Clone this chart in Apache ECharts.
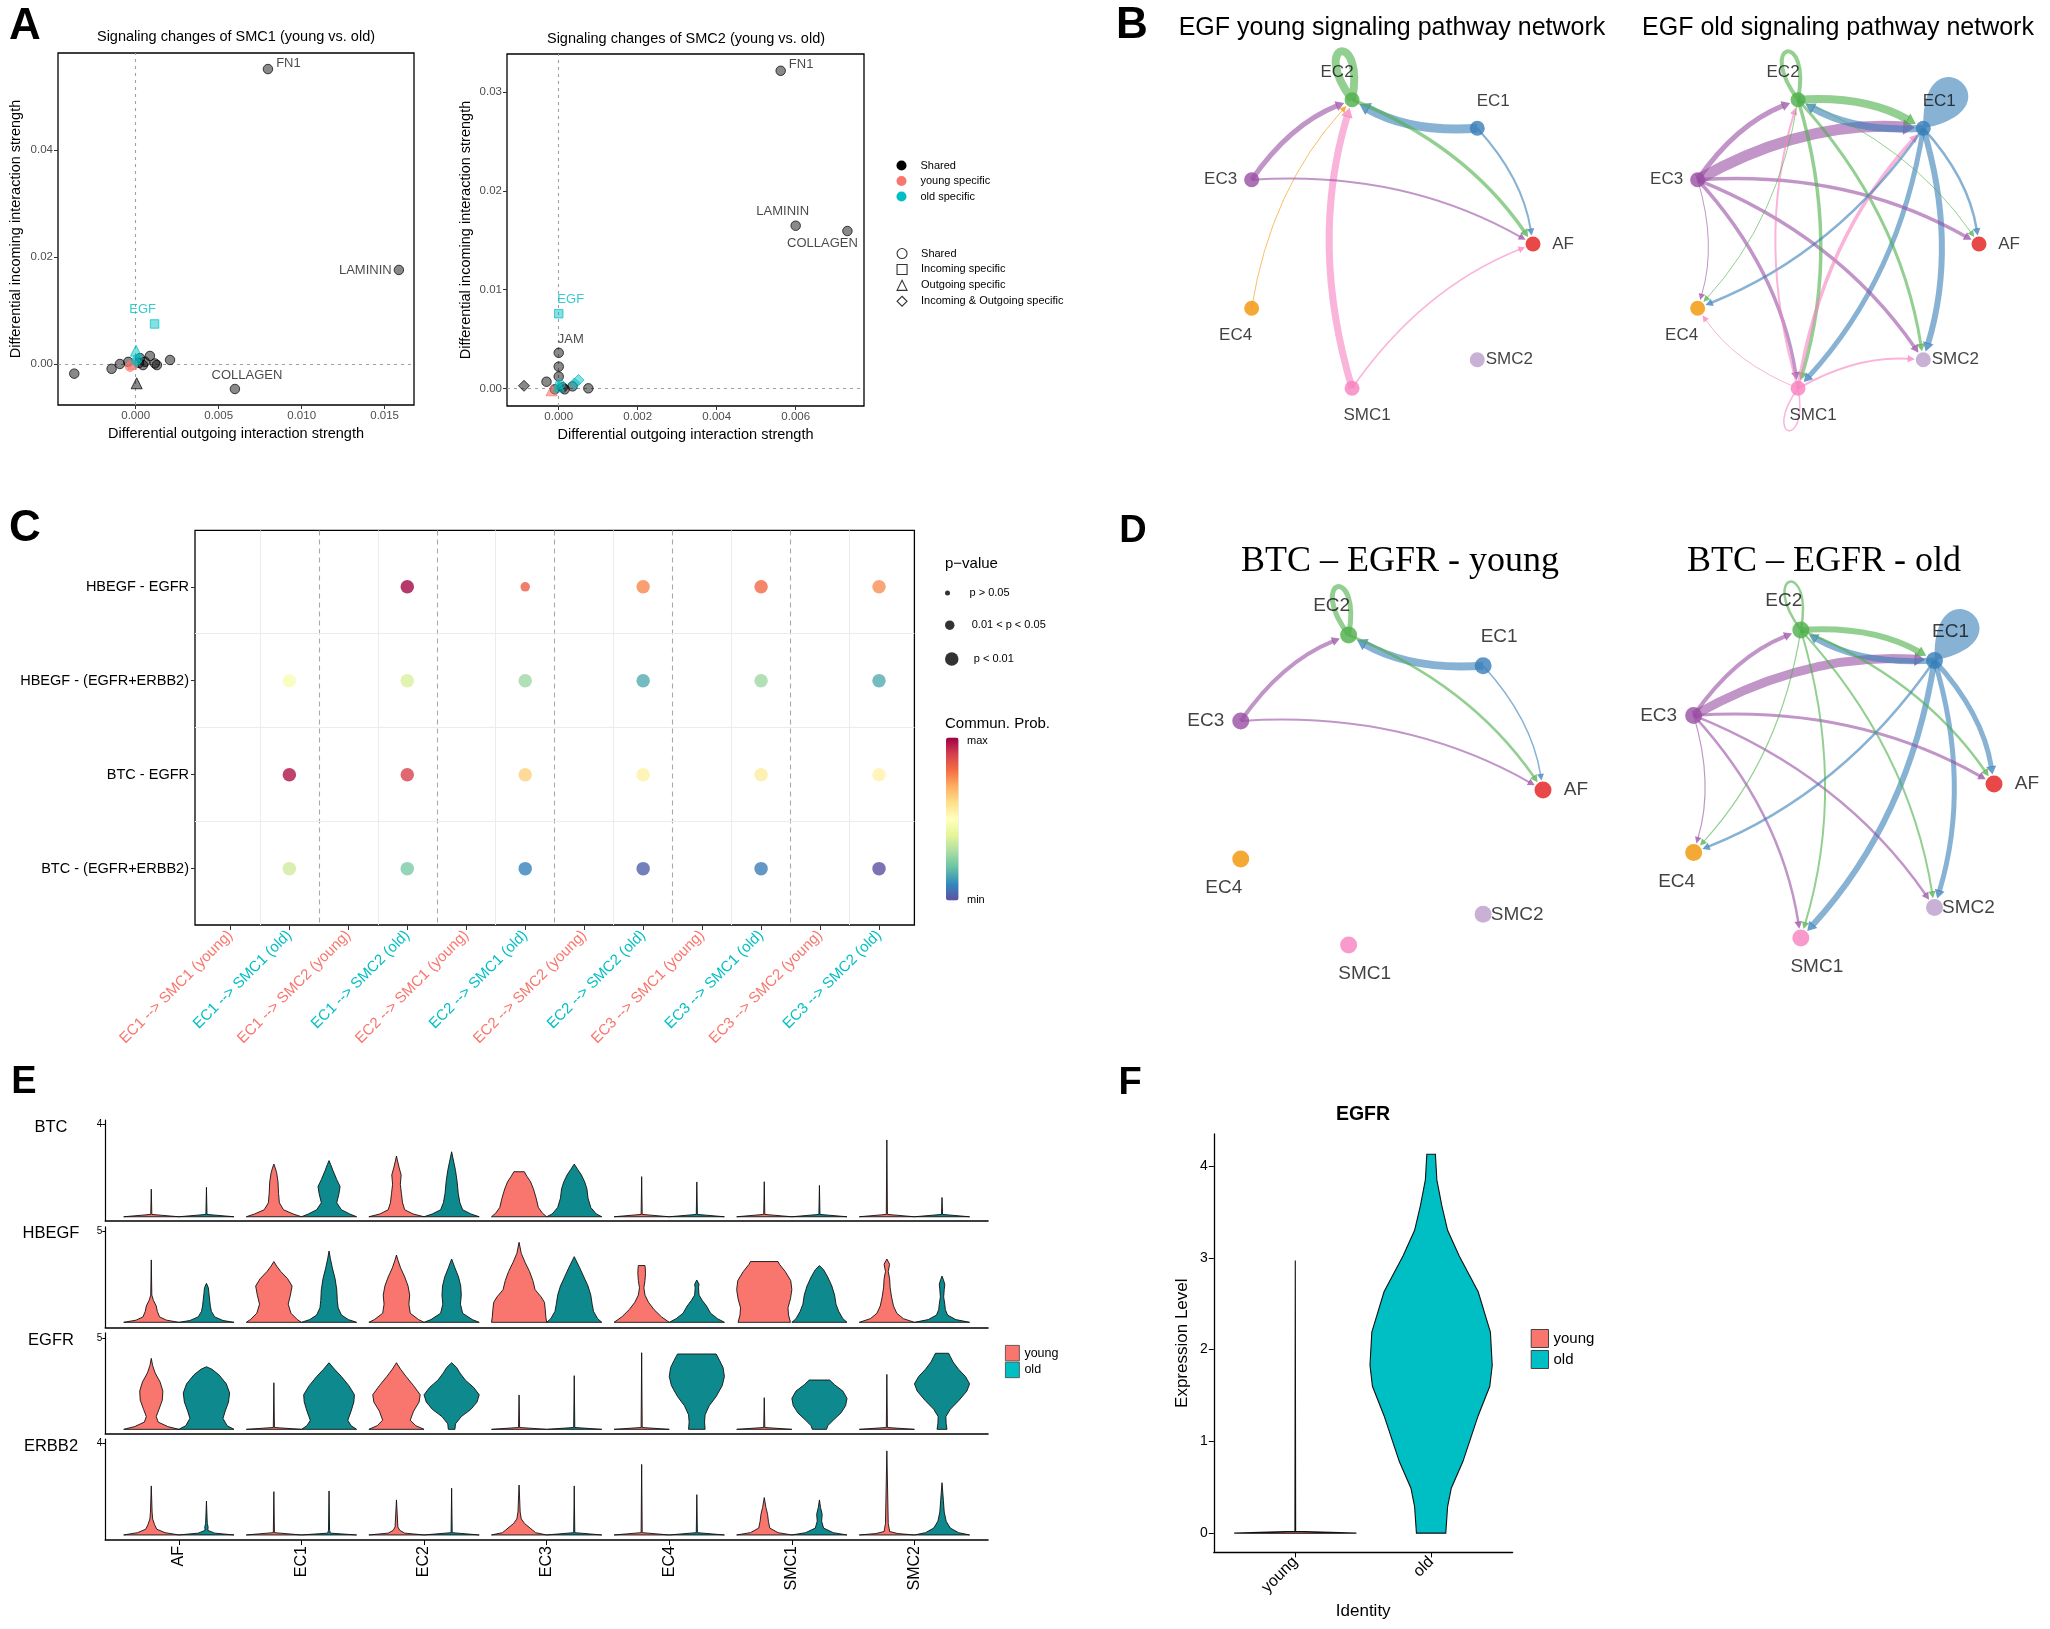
<!DOCTYPE html>
<html><head><meta charset="utf-8">
<script src="https://cdn.jsdelivr.net/npm/echarts@6/dist/echarts.min.js"></script>
<style>html,body{margin:0;padding:0;background:#fff}#main{width:2050px;height:1629px}</style>
</head><body><div id="main"></div>
<script>
// ===================== DATA =====================
// Panel A: [x (outgoing), y (incoming), label, colorGroup, shapeGroup]
const colorGroups = ['Shared', 'young specific', 'old specific'];
const shapeGroups = ['Shared', 'Incoming specific', 'Outgoing specific', 'Incoming & Outgoing specific'];
const scatterSMC1 = [
  [0.00797, 0.0551, 'FN1', 0, 0], [0.01586, 0.01757, 'LAMININ', 0, 0], [0.00598, -0.00467, 'COLLAGEN', 0, 0],
  [-0.0037, -0.0018, '', 0, 0], [-0.00145, -0.0009, '', 0, 0], [-0.00095, 0.0, '', 0, 0], [-0.00045, 0.0004, '', 0, 0],
  [0.00086, 0.0015, '', 0, 0], [0.00116, 0.0001, '', 0, 0], [0.00207, 0.00075, '', 0, 0], [0.00026, 0.0011, '', 0, 0],
  [0.00056, 0.0004, '', 0, 0], [0.00128, -0.0002, '', 0, 0], [0.00044, -0.0002, '', 0, 0], [0.0002, 0.0002, '', 0, 0],
  [0.00006, -0.0036, '', 0, 2],
  [-0.00034, -0.0005, '', 1, 0], [-0.0002, -0.0002, '', 1, 1],
  [0.0001, 0.0009, '', 2, 0], [0.00002, 0.0025, '', 2, 2], [0.00002, 0.0004, '', 2, 3], [0.00114, 0.00748, 'EGF', 2, 1]
];
const scatterSMC2 = [
  [0.00562, 0.03218, 'FN1', 0, 0], [0.0060, 0.01648, 'LAMININ', 0, 0], [0.00731, 0.01594, 'COLLAGEN', 0, 0],
  [0.0, 0.0036, 'JAM', 0, 0], [0.0, 0.0022, '', 0, 0], [0.0, 0.0012, '', 0, 0], [-0.00088, 0.00026, '', 0, 3],
  [-0.00031, 0.00067, '', 0, 0], [0.00075, 0.0, '', 0, 0], [0.00035, 0.0002, '', 0, 0], [0.0001, 0.0001, '', 0, 0],
  [0.00015, -0.0001, '', 0, 0], [-0.0001, -0.0001, '', 0, 0],
  [-0.00018, -0.0002, '', 1, 2],
  [0.0005, 0.00084, '', 2, 3], [0.0004, 0.0005, '', 2, 3], [0.00003, 0.0004, '', 2, 0], [0.0, 0.0002, '', 2, 2],
  [0.0, 0.00756, 'EGF', 2, 1]
];
const ticksA1x = [0, 0.005, 0.010, 0.015], ticksA1y = [0, 0.02, 0.04];
const ticksA2x = [0, 0.002, 0.004, 0.006], ticksA2y = [0, 0.01, 0.02, 0.03];

// Panels B / D: cell groups, edges [source, target, weight], self loops [node, weight]
const nodes = ['AF', 'EC1', 'EC2', 'EC3', 'EC4', 'SMC1', 'SMC2'];
const egfYoungEdges = [['EC1','EC2',9], ['SMC1','EC2',7], ['EC3','EC2',5], ['EC4','EC2',1], ['EC2','AF',3.5], ['EC1','AF',2], ['EC3','AF',2], ['SMC1','AF',1.5]];
const egfYoungLoops = [['EC2', 8]];
const egfOldEdges = [['EC3','EC1',11], ['EC2','EC1',8], ['EC1','EC2',7], ['EC1','SMC2',6], ['EC1','SMC1',5], ['EC3','EC2',5],
  ['EC3','AF',3.5], ['EC3','SMC1',3.5], ['EC3','SMC2',3.5], ['EC2','SMC1',3.5], ['EC2','SMC2',3], ['SMC1','EC1',3.5],
  ['EC1','EC4',2.5], ['EC1','AF',2.5], ['SMC1','EC2',2], ['SMC1','SMC2',2], ['EC3','EC4',1], ['EC2','EC4',1], ['EC2','AF',1], ['SMC1','EC4',1]];
const egfOldLoops = [['EC2', 4], ['EC1', 12], ['SMC1', 1.5]];
const btcYoungEdges = [['EC1','EC2',8], ['EC3','EC2',4], ['EC2','AF',2.5], ['EC1','AF',1.5], ['EC3','AF',2]];
const btcYoungLoops = [['EC2', 5]];
const btcOldEdges = [['EC3','EC1',9], ['EC2','EC1',6], ['EC1','EC2',6], ['EC1','SMC1',6], ['EC1','SMC2',5], ['EC1','AF',5],
  ['EC3','EC2',4], ['EC3','AF',3], ['EC3','SMC1',2.5], ['EC3','SMC2',2.5], ['EC2','AF',2.5], ['EC1','EC4',2.5],
  ['EC2','SMC1',2], ['EC2','SMC2',2], ['EC3','EC4',1.2], ['EC2','EC4',1.2]];
const btcOldLoops = [['EC2', 2.5], ['EC1', 12]];

// Panel C: ligand-receptor pairs, communication columns, bubbles [col, row, prob(0-1), pCategory]
const lrPairs = ['HBEGF - EGFR', 'HBEGF - (EGFR+ERBB2)', 'BTC - EGFR', 'BTC - (EGFR+ERBB2)'];
const commPairs = ['EC1 --> SMC1 (young)', 'EC1 --> SMC1 (old)', 'EC1 --> SMC2 (young)', 'EC1 --> SMC2 (old)',
  'EC2 --> SMC1 (young)', 'EC2 --> SMC1 (old)', 'EC2 --> SMC2 (young)', 'EC2 --> SMC2 (old)',
  'EC3 --> SMC1 (young)', 'EC3 --> SMC1 (old)', 'EC3 --> SMC2 (young)', 'EC3 --> SMC2 (old)'];
const bubbles = [
  [3,0,0.99,3], [5,0,0.83,2], [7,0,0.76,3], [9,0,0.81,3], [11,0,0.75,3],
  [1,1,0.47,3], [3,1,0.38,3], [5,1,0.28,3], [7,1,0.16,3], [9,1,0.28,3], [11,1,0.16,3],
  [1,2,0.97,3], [3,2,0.89,3], [5,2,0.63,3], [7,2,0.55,3], [9,2,0.56,3], [11,2,0.54,3],
  [1,3,0.36,3], [3,3,0.23,3], [5,3,0.09,3], [7,3,0.03,3], [9,3,0.08,3], [11,3,0.0,3]
];
const pLabels = ['p > 0.05', '0.01 < p < 0.05', 'p < 0.01'];

// Panel E: violin profiles per cell group, [expression value, relative width]
const genes = ['BTC', 'HBEGF', 'EGFR', 'ERBB2'];
const geneTicks = [4, 5, 5, 4];
const btcYoung = [
  [[0,1],[0.1,0.02],[1.19,0]],
  [[0,1],[0.12,0.7],[0.3,0.35],[0.6,0.2],[1.0,0.17],[1.5,0.15],[1.9,0.1],[2.1,0.05],[2.27,0]],
  [[0,1],[0.12,0.6],[0.3,0.3],[0.6,0.22],[1.0,0.18],[1.4,0.14],[1.8,0.17],[2.1,0.1],[2.4,0.04],[2.62,0]],
  [[0,1],[0.15,0.85],[0.4,0.7],[0.8,0.62],[1.2,0.52],[1.5,0.42],[1.75,0.28],[1.94,0.19]],
  [[0,1],[0.1,0.02],[1.73,0]],
  [[0,1],[0.1,0.02],[1.51,0]],
  [[0,1],[0.1,0.02],[3.31,0]]
];
const btcOld = [
  [[0,1],[0.1,0.02],[1.27,0]],
  [[0,1],[0.12,0.75],[0.3,0.45],[0.6,0.28],[1.0,0.36],[1.3,0.4],[1.6,0.28],[2.0,0.14],[2.25,0.06],[2.42,0]],
  [[0,1],[0.12,0.7],[0.3,0.4],[0.6,0.3],[1.0,0.24],[1.5,0.2],[2.0,0.14],[2.4,0.07],[2.8,0]],
  [[0,1],[0.12,0.8],[0.4,0.6],[0.8,0.5],[1.2,0.46],[1.5,0.38],[1.8,0.26],[2.05,0.12],[2.27,0]],
  [[0,1],[0.1,0.02],[1.5,0]],
  [[0,1],[0.1,0.02],[1.35,0]],
  [[0,1],[0.1,0.02],[0.83,0]]
];
const hbegfYoung = [
  [[0,1],[0.12,0.55],[0.3,0.3],[0.6,0.22],[0.9,0.18],[1.2,0.08],[1.5,0.02],[3.44,0]],
  [[0,1],[0.15,0.85],[0.5,0.62],[1.0,0.52],[1.5,0.6],[2.0,0.66],[2.4,0.5],[2.8,0.25],[3.1,0.1],[3.35,0]],
  [[0,1],[0.15,0.8],[0.5,0.5],[1.0,0.45],[1.5,0.48],[2.0,0.42],[2.5,0.3],[3.0,0.15],[3.4,0.06],[3.71,0]],
  [[0,1],[0.3,0.97],[0.7,0.95],[1.1,0.92],[1.4,0.8],[1.8,0.58],[2.3,0.5],[2.8,0.38],[3.3,0.22],[3.8,0.08],[4.41,0]],
  [[0,1],[0.3,0.72],[0.7,0.45],[1.1,0.25],[1.5,0.12],[1.9,0.08],[2.3,0.12],[2.7,0.14],[3.0,0.13],[3.13,0.12]],
  [[0,0.95],[0.4,0.88],[0.8,0.86],[1.3,0.95],[1.8,1.0],[2.3,0.96],[2.8,0.76],[3.2,0.55],[3.35,0.5]],
  [[0,1],[0.2,0.6],[0.5,0.36],[0.9,0.24],[1.4,0.17],[1.9,0.12],[2.4,0.1],[2.8,0.05],[3.2,0.1],[3.49,0]]
];
const hbegfOld = [
  [[0,1],[0.1,0.6],[0.3,0.3],[0.6,0.18],[0.9,0.14],[1.2,0.12],[1.6,0.09],[1.9,0.07],[2.15,0]],
  [[0,1],[0.15,0.7],[0.4,0.45],[0.8,0.33],[1.2,0.3],[1.8,0.28],[2.4,0.22],[3.0,0.12],[3.5,0.05],[3.93,0]],
  [[0,1],[0.15,0.75],[0.5,0.4],[1.0,0.32],[1.5,0.35],[2.0,0.33],[2.5,0.25],[3.0,0.12],[3.49,0]],
  [[0,1],[0.2,0.85],[0.6,0.7],[1.0,0.65],[1.5,0.6],[2.0,0.5],[2.5,0.35],[3.0,0.2],[3.62,0]],
  [[0,1],[0.2,0.75],[0.5,0.5],[0.9,0.35],[1.2,0.2],[1.5,0.08],[1.9,0.06],[2.1,0.08],[2.33,0]],
  [[0,1],[0.2,0.85],[0.6,0.7],[1.0,0.6],[1.5,0.55],[2.0,0.45],[2.5,0.3],[2.9,0.15],[3.13,0]],
  [[0,1],[0.15,0.5],[0.4,0.2],[0.7,0.12],[1.0,0.1],[1.4,0.06],[1.8,0.08],[2.1,0.1],[2.35,0.05],[2.55,0]]
];
const egfrYoung = [
  [[0,1],[0.15,0.6],[0.4,0.25],[0.7,0.18],[1.1,0.28],[1.6,0.4],[2.1,0.42],[2.6,0.32],[3.1,0.14],[3.5,0.05],[3.9,0]],
  [[0,1],[0.1,0.02],[2.56,0]],
  [[0,1],[0.2,0.7],[0.5,0.5],[1.0,0.62],[1.5,0.82],[1.9,0.86],[2.4,0.62],[2.9,0.35],[3.3,0.15],[3.66,0]],
  [[0,1],[0.1,0.02],[1.89,0]],
  [[0,1],[0.1,0.02],[4.21,0]],
  [[0,1],[0.1,0.02],[1.74,0]],
  [[0,1],[0.1,0.02],[3.02,0]]
];
const egfrOld = [
  [[0,1],[0.2,0.75],[0.6,0.6],[1.0,0.68],[1.5,0.8],[2.0,0.84],[2.5,0.72],[3.0,0.45],[3.3,0.2],[3.44,0]],
  [[0,1],[0.2,0.8],[0.5,0.68],[1.0,0.8],[1.5,0.9],[1.9,0.92],[2.4,0.72],[2.9,0.45],[3.3,0.2],[3.66,0]],
  [[0,0.12],[0.3,0.14],[0.7,0.35],[1.1,0.7],[1.5,0.92],[1.9,1.0],[2.3,0.8],[2.7,0.5],[3.1,0.3],[3.4,0.18],[3.66,0]],
  [[0,1],[0.1,0.02],[2.95,0]],
  [[0,0.3],[0.4,0.28],[0.8,0.3],[1.3,0.45],[1.8,0.7],[2.4,0.92],[2.9,1.0],[3.4,0.95],[3.8,0.82],[4.14,0.7]],
  [[0,0.26],[0.2,0.3],[0.5,0.5],[0.9,0.78],[1.3,0.95],[1.7,1.0],[2.1,0.85],[2.45,0.55],[2.71,0.37]],
  [[0,0.18],[0.3,0.15],[0.7,0.14],[1.1,0.3],[1.6,0.62],[2.1,0.9],[2.5,1.0],[2.9,0.85],[3.3,0.6],[3.7,0.4],[4.0,0.3],[4.18,0.24]]
];
const erbb2Young = [
  [[0,1],[0.1,0.5],[0.25,0.2],[0.45,0.12],[0.7,0.05],[1.0,0.03],[2.14,0]],
  [[0,1],[0.1,0.02],[1.89,0]],
  [[0,1],[0.08,0.3],[0.2,0.12],[0.35,0.05],[1.53,0]],
  [[0,1],[0.1,0.6],[0.3,0.4],[0.5,0.2],[0.7,0.08],[1.0,0.04],[1.3,0.03],[2.18,0]],
  [[0,1],[0.1,0.02],[3.08,0]],
  [[0,1],[0.1,0.5],[0.3,0.2],[0.6,0.15],[0.9,0.12],[1.2,0.06],[1.63,0]],
  [[0,1],[0.06,0.4],[0.15,0.1],[0.3,0.08],[0.5,0.05],[3.67,0]]
];
const erbb2Old = [
  [[0,1],[0.08,0.3],[0.2,0.05],[0.35,0.06],[0.5,0.03],[1.48,0]],
  [[0,1],[0.08,0.05],[0.2,0.02],[1.92,0]],
  [[0,1],[0.1,0.02],[2.04,0]],
  [[0,1],[0.1,0.02],[2.14,0]],
  [[0,1],[0.1,0.02],[1.76,0]],
  [[0,1],[0.1,0.5],[0.3,0.15],[0.6,0.08],[0.9,0.1],[1.2,0.04],[1.53,0]],
  [[0,1],[0.1,0.6],[0.3,0.3],[0.6,0.15],[1.0,0.08],[1.5,0.05],[2.28,0]]
];
const youngProfiles = [btcYoung, hbegfYoung, egfrYoung, erbb2Young];
const oldProfiles = [btcOld, hbegfOld, egfrOld, erbb2Old];

// Panel F: EGFR by identity
const fGroups = ['young', 'old'];
const fYoung = [[0,1],[0.02,0.006],[2.97,0]];
const fOld = [[0,0.24],[0.29,0.27],[0.49,0.33],[0.78,0.52],[1.28,0.77],[1.6,0.96],[1.83,1.0],[2.19,0.97],
  [2.63,0.77],[3.02,0.46],[3.3,0.27],[3.57,0.175],[3.85,0.094],[4.13,0.07]];
const fTicks = [0, 1, 2, 3, 4];

// ===================== STYLE =====================
const FONT = '"Liberation Sans", Arial, sans-serif';
const SERIF = '"Liberation Serif", "Times New Roman", serif';
const YOUNG = '#F8766D', OLD = '#00BFC4', OLD_DARK = '#0E8A8E';
const nodeColors = {AF:'#E41A1C', EC1:'#377EB8', EC2:'#4DAF4A', EC3:'#984EA3', EC4:'#F29403', SMC1:'#F781BF', SMC2:'#BC9DCC'};
const spectral = ['#5E4FA2','#3288BD','#66C2A5','#ABDDA4','#E6F598','#FFFFBF','#FEE08B','#FDAE61','#F46D43','#D53E4F','#9E0142'];
const shapeSymbols = ['circle', 'rect', 'triangle', 'diamond'];
const shapeSizes = [9.5, 8.5, 11, 11];
const colorFill = ['rgba(0,0,0,0.58)', 'rgba(248,118,109,0.7)', 'rgba(0,191,196,0.6)'];
const colorBorder = ['#000', '#F8766D', '#00BFC4'];
const labelStyleA1 = {
  FN1: {position: 'right', offset: [0, -6], distance: 3},
  LAMININ: {position: 'left', distance: 2},
  COLLAGEN: {position: 'top', offset: [12, 0], distance: 2},
  EGF: {position: 'top', offset: [-12, 0], distance: 3, color: OLD}
};
const labelStyleA2 = {
  FN1: {position: 'right', offset: [0, -6], distance: 3},
  LAMININ: {position: 'top', offset: [-13, 0], distance: 3},
  COLLAGEN: {position: 'bottom', offset: [-25, 0], distance: 1},
  EGF: {position: 'top', offset: [12, 0], distance: 3, color: OLD},
  JAM: {position: 'top', offset: [12, 0], distance: 2}
};
const labelOffB = {AF:[30,0], EC1:[16,-27], EC2:[-15,-27], EC3:[-31,0], EC4:[-16,27], SMC1:[15,27], SMC2:[32,0]};
const labelOffD = {AF:[33,0], EC1:[16,-29], EC2:[-17,-29], EC3:[-35,0], EC4:[-17,29], SMC1:[16,29], SMC2:[34,0]};
// loop geometry: [control length, control spread, filled blob?]
const loopGeom = {EC1: [80, 135, true], EC2: [66, 58, false], SMC1: [58, 50, false]};
const CURV = 0.15;

const option = {
  animation: false, backgroundColor: '#fff', textStyle: {fontFamily: FONT},
  title: [], grid: [], xAxis: [], yAxis: [], polar: [], angleAxis: [], radiusAxis: [],
  legend: [], visualMap: [], series: []
};
function addText(text, x, y, size, opt) {
  opt = opt || {};
  option.title.push({text: text, left: x, top: y, padding: 0, textAlign: opt.align || 'center', textVerticalAlign: 'middle',
    textStyle: {fontSize: size, fontWeight: opt.bold ? 'bold' : 'normal', color: opt.color || '#000', fontFamily: opt.family || FONT}});
}

// ===================== PANEL A =====================
function addScatterPanel(gi, box, pts, tx, ty, labelStyles) {
  option.grid.push({left: box.left, top: box.top, width: box.width, height: box.height, show: true, borderColor: '#000', borderWidth: 1.3});
  option.xAxis.push({type: 'value', gridIndex: gi, min: box.x[0], max: box.x[1], axisLine: {show: false, onZero: false}, splitLine: {show: false},
    axisTick: {show: true, customValues: tx, length: 4, lineStyle: {color: '#333'}},
    axisLabel: {customValues: tx, formatter: v => v.toFixed(3), fontSize: 11.5, color: '#4d4d4d', margin: 5},
    name: 'Differential outgoing interaction strength', nameLocation: 'middle', nameGap: 21, nameTextStyle: {fontSize: 14.5, color: '#000'}});
  option.yAxis.push({type: 'value', gridIndex: gi, min: box.y[0], max: box.y[1], axisLine: {show: false, onZero: false}, splitLine: {show: false},
    axisTick: {show: true, customValues: ty, length: 4, lineStyle: {color: '#333'}},
    axisLabel: {customValues: ty, formatter: v => v.toFixed(2), fontSize: 11.5, color: '#4d4d4d', margin: 5},
    name: 'Differential incoming interaction strength', nameLocation: 'middle', nameGap: box.nameGapY, nameTextStyle: {fontSize: 14.5, color: '#000'}});
  colorGroups.forEach((cg, ci) => {
    const s = {
      type: 'scatter', name: cg, xAxisIndex: gi, yAxisIndex: gi, z: 6,
      itemStyle: {color: colorFill[ci], borderColor: colorBorder[ci], borderWidth: 0.9},
      data: pts.filter(p => p[3] === ci).map(p => {
        const item = {value: [p[0], p[1]], name: p[2], symbol: shapeSymbols[p[4]], symbolSize: shapeSizes[p[4]]};
        if (p[2]) {
          const ls = labelStyles[p[2]] || {};
          item.label = Object.assign({show: true, formatter: '{b}', fontSize: 13, color: '#1a1a1a'}, ls);
        }
        return item;
      })
    };
    if (ci === 0) {
      s.markLine = {silent: true, symbol: ['none', 'none'], label: {show: false}, z: 1,
        lineStyle: {type: [3, 4], color: '#a0a0a0', width: 1.1}, data: [{xAxis: 0}, {yAxis: 0}]};
    }
    option.series.push(s);
  });
}
addScatterPanel(0, {left: 58, top: 53, width: 356, height: 352, x: [-0.00468, 0.01677], y: [-0.00766, 0.0581], nameGapY: 35},
  scatterSMC1, ticksA1x, ticksA1y, labelStyleA1);
addScatterPanel(1, {left: 507, top: 54, width: 357, height: 352, x: [-0.00131, 0.00773], y: [-0.00179, 0.03388], nameGapY: 34},
  scatterSMC2, ticksA2x, ticksA2y, labelStyleA2);
shapeGroups.forEach(s => option.series.push({type: 'scatter', name: 'sh:' + s, xAxisIndex: 1, yAxisIndex: 1, data: []}));
addText('A', 25, 27, 44, {bold: true});
addText('Signaling changes of SMC1 (young vs. old)', 236, 37, 14.5);
addText('Signaling changes of SMC2 (young vs. old)', 686, 39, 14.5);
option.legend.push({orient: 'vertical', left: 896.5, top: 160, itemWidth: 10, itemHeight: 10, itemGap: 4.5, padding: 0,
  selectedMode: false, textStyle: {fontSize: 11, color: '#000', padding: [0, 0, 0, 9]},
  data: colorGroups.map((c, i) => ({name: c, icon: 'circle', itemStyle: {color: colorBorder[i], borderWidth: 0, opacity: 1}}))});
option.legend.push({orient: 'vertical', left: 896.5, top: 248, itemWidth: 10, itemHeight: 10, itemGap: 4.8, padding: 0,
  selectedMode: false, textStyle: {fontSize: 11, color: '#000', padding: [0, 0, 0, 9]}, formatter: n => n.slice(3),
  data: shapeGroups.map((s, i) => ({name: 'sh:' + s, icon: shapeSymbols[i], itemStyle: {color: '#fff', borderColor: '#000', borderWidth: 1.1}}))});

// ===================== PANEL C =====================
const cGi = 2;
option.grid.push({left: 195, top: 530.4, width: 719.4, height: 394.6, show: true, borderColor: '#000', borderWidth: 1.3});
const commIdx = commPairs.map((_, i) => i), lrIdx = lrPairs.map((_, i) => i);
option.xAxis.push({type: 'value', gridIndex: cGi, min: -0.6, max: commPairs.length - 0.4, axisLine: {show: false, onZero: false}, splitLine: {show: false},
  axisTick: {customValues: commIdx, length: 5, lineStyle: {color: '#333'}},
  axisLabel: {customValues: commIdx, rotate: 45, formatter: v => commPairs[v], fontSize: 15, margin: 8,
    color: v => (commPairs[+v] || '').indexOf('young') >= 0 ? YOUNG : OLD}});
option.yAxis.push({type: 'value', gridIndex: cGi, min: -0.6, max: lrPairs.length - 0.4, inverse: true, axisLine: {show: false, onZero: false}, splitLine: {show: false},
  axisTick: {customValues: lrIdx, length: 4, lineStyle: {color: '#333'}},
  axisLabel: {customValues: lrIdx, formatter: v => lrPairs[v], fontSize: 14.5, color: '#000', margin: 6}});
const cLines = [];
for (let i = 0; i < commPairs.length - 1; i++) {
  cLines.push({xAxis: i + 0.5, lineStyle: i % 2 === 1 ? {type: [5, 4], color: '#a8a8a8', width: 1.1} : {type: 'solid', color: '#ececec', width: 1}});
}
for (let j = 0; j < lrPairs.length - 1; j++) cLines.push({yAxis: j + 0.5, lineStyle: {type: 'solid', color: '#ececec', width: 1}});
const pSizes = [5, 9.5, 13.5];
const cSeriesIdx = [];
pLabels.forEach((pl, k) => {
  cSeriesIdx.push(option.series.length);
  const s = {type: 'scatter', name: pl, xAxisIndex: cGi, yAxisIndex: cGi, symbolSize: pSizes[k], z: 6,
    data: bubbles.filter(b => b[3] === k + 1).map(b => [b[0], b[1], b[2]])};
  if (k === 2) s.markLine = {silent: true, symbol: ['none', 'none'], label: {show: false}, z: 1, data: cLines};
  option.series.push(s);
});
option.visualMap.push({type: 'continuous', seriesIndex: cSeriesIdx, dimension: 2, min: 0, max: 1, inRange: {color: spectral},
  left: 946, top: 737.5, itemWidth: 12.6, itemHeight: 163, text: null, calculable: false, show: true, padding: 0, orient: 'vertical', showLabel: false});
[593.6, 625.7, 659].forEach((cy, k) => {
  option.legend.push({left: 945, top: cy - Math.max(pSizes[k], 12) / 2, itemWidth: 34, itemHeight: pSizes[k], padding: 0, selectedMode: false,
    textStyle: {fontSize: 11, color: '#000'}, data: [{name: pLabels[k], icon: 'circle', itemStyle: {color: '#000', borderWidth: 0}}]});
});
addText('C', 25, 529, 44, {bold: true});
addText('p\u2212value', 945, 564, 15, {align: 'left'});
addText('Commun. Prob.', 945, 724, 15, {align: 'left'});
addText('max', 967, 741, 11, {align: 'left'});
addText('min', 967, 900, 11, {align: 'left'});

// ===================== PANELS B & D (networks) =====================
function edgeRenderer(edges, nodeR) {
  return function (params, api) {
    const e = edges[params.dataIndex];
    const p1 = api.coord([1, nodes.indexOf(e[0])]);
    const p2 = api.coord([1, nodes.indexOf(e[1])]);
    const w = e[2], col = nodeColors[e[0]];
    const mx = (p1[0] + p2[0]) / 2, my = (p1[1] + p2[1]) / 2;
    const cp = [mx - (p1[1] - p2[1]) * CURV, my - (p2[0] - p1[0]) * CURV];
    let ux = p2[0] - cp[0], uy = p2[1] - cp[1];
    const ul = Math.hypot(ux, uy); ux /= ul; uy /= ul;
    const tip = [p2[0] - ux * (nodeR + 1), p2[1] - uy * (nodeR + 1)];
    const aLen = 6 + w * 0.5, aHalf = 2.8 + w * 0.45;
    const base = [tip[0] - ux * aLen, tip[1] - uy * aLen];
    const end = [base[0] + ux, base[1] + uy];
    const px = -uy, py = ux;
    return {type: 'group', children: [
      {type: 'bezierCurve', shape: {x1: p1[0], y1: p1[1], x2: end[0], y2: end[1], cpx1: cp[0], cpy1: cp[1]},
        style: {stroke: col, lineWidth: w, fill: 'none', opacity: 0.6}},
      {type: 'polygon', shape: {points: [tip, [base[0] + px * aHalf, base[1] + py * aHalf], [base[0] - px * aHalf, base[1] - py * aHalf]]},
        style: {fill: col, opacity: 0.75}}
    ]};
  };
}
function loopRenderer(loops) {
  return function (params, api) {
    const lp = loops[params.dataIndex];
    const idx = nodes.indexOf(lp[0]);
    const p = api.coord([1, idx]), c0 = api.coord([0, idx]);
    let ox = p[0] - c0[0], oy = p[1] - c0[1];
    const ol = Math.hypot(ox, oy); ox /= ol; oy /= ol;
    const px = -oy, py = ox;
    const g = loopGeom[lp[0]] || [62, 55, false];
    const Lc = g[0], Wh = g[1] / 2;
    const col = nodeColors[lp[0]];
    return {type: 'bezierCurve', shape: {x1: p[0], y1: p[1], x2: p[0], y2: p[1],
      cpx1: p[0] + ox * Lc + px * Wh, cpy1: p[1] + oy * Lc + py * Wh, cpx2: p[0] + ox * Lc - px * Wh, cpy2: p[1] + oy * Lc - py * Wh},
      style: g[2] ? {fill: col, stroke: 'none', opacity: 0.6} : {stroke: col, lineWidth: lp[1], fill: 'none', opacity: 0.6}};
  };
}
const nets = [
  {center: [1385, 244], r: 148, edges: egfYoungEdges, loops: egfYoungLoops, nodeSize: 15, fontSize: 17, off: labelOffB},
  {center: [1831, 244], r: 148, edges: egfOldEdges, loops: egfOldLoops, nodeSize: 15, fontSize: 17, off: labelOffB},
  {center: [1384, 790], r: 159, edges: btcYoungEdges, loops: btcYoungLoops, nodeSize: 17, fontSize: 19, off: labelOffD},
  {center: [1836, 784], r: 158, edges: btcOldEdges, loops: btcOldLoops, nodeSize: 17, fontSize: 19, off: labelOffD}
];
nets.forEach((n, k) => {
  option.polar.push({center: n.center, radius: n.r});
  option.angleAxis.push({polarIndex: k, type: 'category', data: nodes, boundaryGap: false, startAngle: 0, clockwise: false, show: false});
  option.radiusAxis.push({polarIndex: k, type: 'value', min: 0, max: 1, show: false});
  option.series.push({type: 'custom', coordinateSystem: 'polar', polarIndex: k, silent: true, z: 2, clip: false,
    data: n.loops.map(l => [1, nodes.indexOf(l[0])]), renderItem: loopRenderer(n.loops)});
  option.series.push({type: 'custom', coordinateSystem: 'polar', polarIndex: k, silent: true, z: 3, clip: false,
    data: n.edges.map(e => [1, nodes.indexOf(e[0])]), renderItem: edgeRenderer(n.edges, n.nodeSize / 2)});
  option.series.push({type: 'scatter', coordinateSystem: 'polar', polarIndex: k, symbolSize: n.nodeSize, z: 5, silent: true,
    label: {show: true, position: 'inside', formatter: '{b}', fontSize: n.fontSize, color: '#111'},
    data: nodes.map((nm, i) => ({value: [1, i], name: nm, itemStyle: {color: nodeColors[nm]}, label: {offset: n.off[nm]}}))});
});
addText('B', 1132, 26, 44, {bold: true});
addText('EGF young signaling pathway network', 1392, 28, 25);
addText('EGF old signaling pathway network', 1838, 28, 25);
addText('D', 1133, 532, 38, {bold: true});
addText('BTC \u2013 EGFR - young', 1400, 562, 36, {family: SERIF});
addText('BTC \u2013 EGFR - old', 1824, 562, 36, {family: SERIF});

// ===================== PANEL E =====================
function violinRenderer(profiles, offFrac, halfFrac, color, lw) {
  return function (params, api) {
    const prof = profiles[params.dataIndex];
    const gi = api.value(0);
    const base = api.coord([gi, 0]);
    const band = api.size([1, 0])[0];
    const cx = base[0] + offFrac * band, hw = halfFrac * band;
    const right = prof.map(pw => [cx + pw[1] * hw, api.coord([gi, pw[0]])[1]]);
    const left = prof.slice().reverse().map(pw => [cx - pw[1] * hw, api.coord([gi, pw[0]])[1]]);
    return {type: 'polygon', shape: {points: right.concat(left)}, style: {fill: color, stroke: '#111', lineWidth: lw}};
  };
}
const eRows = [{top: 1120, h: 100.7, y: [-0.17, 4.17]}, {top: 1226.9, h: 100.5, y: [-0.28, 5.26]},
  {top: 1332.9, h: 100.8, y: [-0.24, 5.3]}, {top: 1439.2, h: 100.8, y: [-0.22, 4.18]}];
const cellIdx = nodes.map((_, i) => i);
eRows.forEach((row, r) => {
  const gi = 3 + r, last = r === eRows.length - 1;
  option.grid.push({left: 105.3, top: row.top, width: 882.7, height: row.h});
  option.xAxis.push({type: 'value', gridIndex: gi, min: -0.6, max: nodes.length - 0.4, splitLine: {show: false},
    axisLine: {show: true, onZero: false, lineStyle: {color: '#000', width: 1.6}},
    axisTick: {show: last, customValues: cellIdx, length: 5, lineStyle: {color: '#000'}},
    axisLabel: {show: last, customValues: cellIdx, rotate: 90, formatter: v => nodes[v], fontSize: 16, color: '#000', margin: 6}});
  option.yAxis.push({type: 'value', gridIndex: gi, min: row.y[0], max: row.y[1], splitLine: {show: false},
    axisLine: {show: true, onZero: false, lineStyle: {color: '#000', width: 1.2}},
    axisTick: {customValues: [geneTicks[r]], length: 3, lineStyle: {color: '#000'}},
    axisLabel: {customValues: [geneTicks[r]], fontSize: 10, color: '#000', margin: 3}});
  option.series.push({type: 'custom', name: 'young', xAxisIndex: gi, yAxisIndex: gi, clip: false, silent: true,
    itemStyle: {color: YOUNG}, data: youngProfiles[r].map((p, i) => [i, p[p.length - 1][0]]),
    renderItem: violinRenderer(youngProfiles[r], -0.225, 0.225, YOUNG, 0.9)});
  option.series.push({type: 'custom', name: 'old', xAxisIndex: gi, yAxisIndex: gi, clip: false, silent: true,
    itemStyle: {color: OLD_DARK}, data: oldProfiles[r].map((p, i) => [i, p[p.length - 1][0]]),
    renderItem: violinRenderer(oldProfiles[r], 0.225, 0.225, OLD_DARK, 0.9)});
});
const geneLabelY = [1127, 1233.4, 1340, 1446.4];
genes.forEach((g, r) => addText(g, 51, geneLabelY[r], 16.5));
addText('E', 24, 1083, 38, {bold: true});
option.legend.push({orient: 'vertical', left: 1005, top: 1345, itemWidth: 14, itemHeight: 15.5, itemGap: 0.5, padding: 0, selectedMode: false,
  textStyle: {fontSize: 12.5, color: '#000'},
  data: [{name: 'young', icon: 'rect', itemStyle: {color: YOUNG, borderColor: '#444', borderWidth: 0.8}},
         {name: 'old', icon: 'rect', itemStyle: {color: OLD, borderColor: '#444', borderWidth: 0.8}}]});

// ===================== PANEL F =====================
const fGi = 7;
option.grid.push({left: 1213.8, top: 1134, width: 298.8, height: 418.4});
option.xAxis.push({type: 'value', gridIndex: fGi, min: -0.6, max: fGroups.length - 0.4, splitLine: {show: false},
  axisLine: {show: true, onZero: false, lineStyle: {color: '#000', width: 1.3}},
  axisTick: {customValues: [0, 1], length: 5, lineStyle: {color: '#000'}},
  axisLabel: {customValues: [0, 1], rotate: 45, formatter: v => fGroups[v], fontSize: 16, color: '#000', margin: 7},
  name: 'Identity', nameLocation: 'middle', nameGap: 50, nameTextStyle: {fontSize: 17, color: '#000'}});
option.yAxis.push({type: 'value', gridIndex: fGi, min: -0.21, max: 4.35, splitLine: {show: false},
  axisLine: {show: true, onZero: false, lineStyle: {color: '#000', width: 1.3}},
  axisTick: {customValues: fTicks, length: 5, lineStyle: {color: '#000'}},
  axisLabel: {customValues: fTicks, fontSize: 14, color: '#000', margin: 6},
  name: 'Expression Level', nameLocation: 'middle', nameGap: 23, nameTextStyle: {fontSize: 17, color: '#000'}});
option.series.push({type: 'custom', name: 'young', xAxisIndex: fGi, yAxisIndex: fGi, clip: false, silent: true,
  itemStyle: {color: YOUNG}, data: [[0, fYoung[fYoung.length - 1][0]]], renderItem: violinRenderer([fYoung], 0, 0.45, YOUNG, 1.1)});
option.series.push({type: 'custom', name: 'old', xAxisIndex: fGi, yAxisIndex: fGi, clip: false, silent: true,
  itemStyle: {color: OLD}, data: [[1, fOld[fOld.length - 1][0]]], renderItem: violinRenderer([fOld], 0, 0.45, OLD, 1.1)});
addText('F', 1130, 1084, 38, {bold: true});
addText('EGFR', 1363, 1115, 19.5, {bold: true});
option.legend.push({orient: 'vertical', left: 1530.7, top: 1329, itemWidth: 17.3, itemHeight: 18, itemGap: 2, padding: 0, selectedMode: false,
  textStyle: {fontSize: 15, color: '#000'},
  data: [{name: 'young', icon: 'rect', itemStyle: {color: YOUNG, borderColor: '#444', borderWidth: 1}},
         {name: 'old', icon: 'rect', itemStyle: {color: OLD, borderColor: '#444', borderWidth: 1}}]});

const chart = echarts.init(document.getElementById('main'), null, {renderer: 'canvas'});
chart.setOption(option);
</script></body></html>
